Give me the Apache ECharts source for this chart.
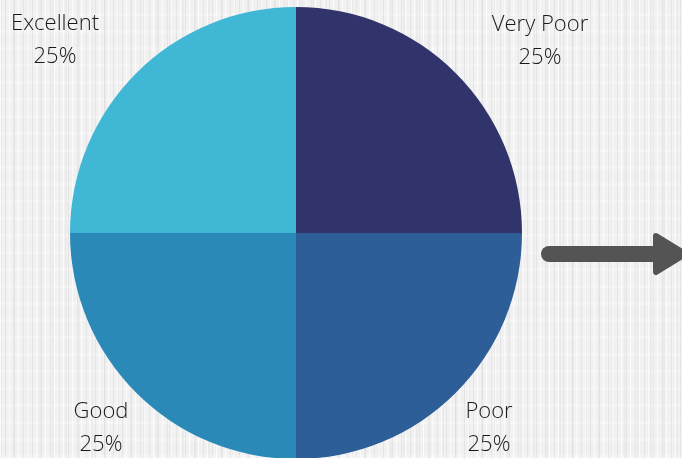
<!DOCTYPE html>
<html>
<head>
<meta charset="utf-8">
<script src="https://cdn.jsdelivr.net/npm/echarts@6/dist/echarts.min.js"></script>
<style>
html,body{margin:0;padding:0;}
body{
  width:682px;height:458px;overflow:hidden;
  background-color:#f1f1f1;
  background-image:
    repeating-linear-gradient(90deg, rgba(255,255,255,0.7) 0px, rgba(255,255,255,0.7) 1px, rgba(0,0,0,0) 1px, rgba(0,0,0,0) 5px, rgba(205,205,205,0.35) 5px, rgba(205,205,205,0.35) 6px, rgba(0,0,0,0) 6px, rgba(0,0,0,0) 9px),
    repeating-linear-gradient(90deg, rgba(215,215,215,0.25) 0px, rgba(215,215,215,0.25) 2px, rgba(0,0,0,0) 2px, rgba(0,0,0,0) 13px),
    repeating-linear-gradient(0deg, rgba(255,255,255,0.3) 0px, rgba(255,255,255,0.3) 3px, rgba(0,0,0,0) 3px, rgba(0,0,0,0) 17px);
}
#chart{width:682px;height:458px;}
</style>
</head>
<body>
<div id="chart"></div>
<script>
var categories = ['Very Poor', 'Poor', 'Good', 'Excellent'];
var values = [25, 25, 25, 25];
var colors = ['#31346b', '#2e5e98', '#2b89b8', '#41b7d6'];
var labelPos = [[540, 41], [489, 428], [101, 428], [55, 40]];

var chart = echarts.init(document.getElementById('chart'), null, {renderer: 'canvas'});
var total = values.reduce(function(a, b){ return a + b; }, 0);
chart.setOption({
  backgroundColor: 'transparent',
  animation: false,
  series: [{
    type: 'pie',
    center: [296, 233],
    radius: [0, 226],
    startAngle: 90,
    clockwise: true,
    data: categories.map(function(c, i){
      return {name: c, value: values[i], itemStyle: {color: colors[i]}};
    }),
    label: {
      show: true,
      position: 'outside',
      overflow: 'none',
      width: 200,
      formatter: function(p){ return p.name + '\n' + Math.round(p.value / total * 100) + '%'; },
      fontFamily: 'Open Sans',
      fontWeight: 300,
      fontSize: 22,
      lineHeight: 33,
      color: '#1a1a1a',
      align: 'center'
    },
    labelLine: {show: false},
    labelLayout: function(params){
      var p = labelPos[params.dataIndex];
      return {x: p[0], y: p[1], align: 'center', verticalAlign: 'middle'};
    },
    emphasis: {disabled: true}
  }],
  graphic: [
    {
      type: 'line',
      shape: {x1: 549, y1: 254, x2: 660, y2: 254},
      style: {stroke: '#545454', lineWidth: 16, lineCap: 'round'}
    },
    {
      type: 'polygon',
      shape: {points: [[656, 236], [685, 254], [656, 272]]},
      style: {fill: '#545454', stroke: '#545454', lineWidth: 6, lineJoin: 'round'}
    }
  ]
});
</script>
</body>
</html>
